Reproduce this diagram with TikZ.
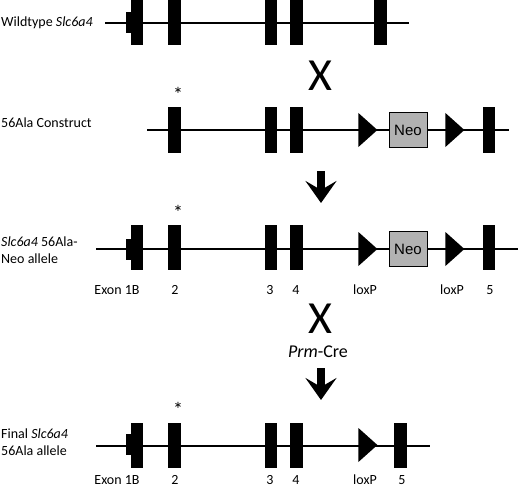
\documentclass[tikz,border=0pt]{standalone}
\usepackage{fontspec}
\setmainfont{Carlito}
\newfontfamily\boxfont{Liberation Sans}
\usetikzlibrary{positioning}
\usetikzlibrary{calc}
\usetikzlibrary{shapes.geometric}
\usetikzlibrary{arrows.meta}

\begin{document}
\begin{tikzpicture}[
			x=1pt, y=-1pt,
			font=\fontsize{14}{17}\selectfont,
			dna/.style={draw=black, line width=1.3pt},
			exon/.style={rectangle, fill=black, inner sep=0pt, minimum width=12.5pt, minimum height=45pt},
			notch/.style={rectangle, fill=black, inner sep=0pt, minimum width=6pt, minimum height=21pt},
			loxp/.style={isosceles triangle, isosceles triangle stretches, fill=black, inner sep=0pt, minimum width=34pt, minimum height=19pt},
			neo/.style={rectangle, draw=black, line width=1pt, fill=black!30, inner sep=0pt, minimum width=38pt, minimum height=35pt, text centered, font=\boxfont\fontsize{15}{15}\selectfont},
			rowlabel/.style={anchor=west, align=left, inner sep=0pt},
			exonlabel/.style={inner sep=0pt, anchor=base},
			star/.style={inner sep=0pt, font=\fontsize{20}{20}\selectfont, xshift=3.5pt},
			cross/.style={inner sep=0pt, font=\fontsize{46}{46}\selectfont},
			step arrow/.style={line width=8pt, -{Stealth[length=22pt, width=31pt, inset=9pt]}},
			]
			\useasboundingbox (0,0) rectangle (520,487);
			
			% wildtype
			\node[rowlabel]  (wt_label) at (1,23)    {Wildtype \textit{Slc6a4}};
			\coordinate      (wt_start) at (105,23);
			\coordinate      (wt_end)   at (409,23);
			\draw[dna] (wt_start) -- (wt_end);
			\node[notch]     (wt_1n) at (129,23)     {};
			\node[exon]      (wt_1)  at (137,23)     {};
			\node[exon]      (wt_2)  at (174.5,23)   {};
			\node[exon]      (wt_3)  at (271,23)     {};
			\node[exon]      (wt_4)  at (296.5,23)   {};
			\node[exon]      (wt_5)  at (380.5,23)   {};
			
			\node[cross]     (cross_1) at (320.5,76) {X};
			
			% targeting construct
			\node[rowlabel]  (con_label) at (1,123)  {56Ala Construct};
			\coordinate      (con_start) at (147,130);
			\coordinate      (con_end)   at (509,130);
			\draw[dna] (con_start) -- (con_end);
			\node[exon]      (con_2)  at (174.5,130) {};
			\node[star]      (con_star) [above=5.5pt of con_2] {*};
			\node[exon]      (con_3)  at (271,130)   {};
			\node[exon]      (con_4)  at (296.5,130) {};
			\node[loxp]      (con_lox1) at (366,130) {};
			\node[neo]       (con_neo)  at (408,130) {Neo};
			\node[loxp]      (con_lox2) at (453,130) {};
			\node[exon]      (con_5)  at (489,130)   {};
			
			\coordinate      (step_1a) at (321,171);
			\coordinate      (step_1b) at (321,203);
			\draw[step arrow] (step_1a) -- (step_1b);
			
			% neo allele
			\node[rowlabel]  (neo_label) at (1,250)  {\textit{Slc6a4} 56Ala-\\Neo allele};
			\coordinate      (neo_start) at (96,249);
			\coordinate      (neo_end)   at (518,249);
			\draw[dna] (neo_start) -- (neo_end);
			\node[notch]     (neo_1n) at (129,249.5) {};
			\node[exon]      (neo_1)  at (137,247.5) {};
			\node[exon]      (neo_2)  at (174.5,247.5) {};
			\node[star]      (neo_star) [above=5.5pt of neo_2] {*};
			\node[exon]      (neo_3)  at (271,247.5) {};
			\node[exon]      (neo_4)  at (296.5,247.5) {};
			\node[loxp]      (neo_lox1) at (366,249) {};
			\node[neo]       (neo_neo)  at (408,249) {Neo};
			\node[loxp]      (neo_lox2) at (453,249) {};
			\node[exon]      (neo_5)  at (489,247.5) {};
			
			\node[exonlabel] (neo_l1)  at (117,294)  {Exon 1B};
			\node[exonlabel] (neo_l2)  at (175,294)  {2};
			\node[exonlabel] (neo_l3)  at (270,294)  {3};
			\node[exonlabel] (neo_l4)  at (296,294)  {4};
			\node[exonlabel] (neo_llox1) at (365,294) {loxP};
			\node[exonlabel] (neo_llox2) at (452,294) {loxP};
			\node[exonlabel] (neo_l5)  at (490,294)  {5};
			
			\node[cross]     (cross_2) at (320.5,319) {X};
			\node            (cre) at (318,352) [inner sep=0pt, font=\fontsize{18}{18}\selectfont] {\textit{Prm}-Cre};
			
			\coordinate      (step_2a) at (321,368);
			\coordinate      (step_2b) at (321,400);
			\draw[step arrow] (step_2a) -- (step_2b);
			
			% final allele
			\node[rowlabel]  (fin_label) at (1,442)  {Final \textit{Slc6a4}\\56Ala allele};
			\coordinate      (fin_start) at (96,446);
			\coordinate      (fin_end)   at (430,446);
			\draw[dna] (fin_start) -- (fin_end);
			\node[notch]     (fin_1n) at (129,444.5) {};
			\node[exon]      (fin_1)  at (137,445)   {};
			\node[exon]      (fin_2)  at (174.5,445) {};
			\node[star]      (fin_star) [above=5.5pt of fin_2] {*};
			\node[exon]      (fin_3)  at (271,445)   {};
			\node[exon]      (fin_4)  at (296.5,445) {};
			\node[loxp]      (fin_lox1) at (366,445) {};
			\node[exon]      (fin_5)  at (400.5,445) {};
			
			\node[exonlabel] (fin_l1)  at (117,484)  {Exon 1B};
			\node[exonlabel] (fin_l2)  at (175,484)  {2};
			\node[exonlabel] (fin_l3)  at (270,484)  {3};
			\node[exonlabel] (fin_l4)  at (296,484)  {4};
			\node[exonlabel] (fin_llox1) at (365,484) {loxP};
			\node[exonlabel] (fin_l5)  at (402,484)  {5};
			
			\end{tikzpicture}
\end{document}
